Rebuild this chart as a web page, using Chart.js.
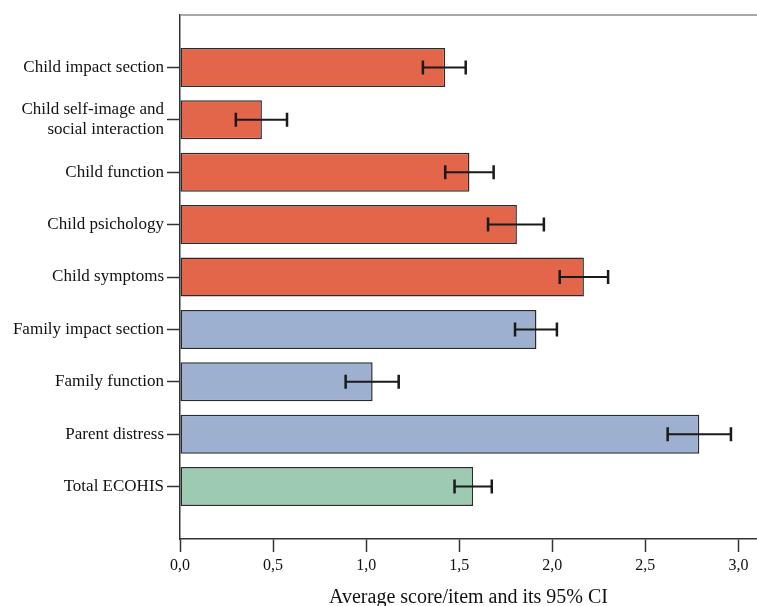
<!DOCTYPE html>
<html>
<head>
<meta charset="utf-8">
<script src="https://cdn.jsdelivr.net/npm/chart.js@4/dist/chart.umd.min.js"></script>
<style>
  html, body { margin: 0; padding: 0; background: #fff; }
  #wrap { width: 757px; height: 606px; position: relative; }
</style>
</head>
<body>
<div id="wrap"><canvas id="c"></canvas></div>
<script>
// ---- data ----
const categories = [
  'Child impact section',
  ['Child self-image and', 'social interaction'],
  'Child function',
  'Child psichology',
  'Child symptoms',
  'Family impact section',
  'Family function',
  'Parent distress',
  'Total ECOHIS'
];
const means   = [1.425, 0.44, 1.555, 1.81, 2.17, 1.915, 1.035, 2.79, 1.575];
const ciLow   = [1.305, 0.30, 1.425, 1.655, 2.04, 1.80, 0.89, 2.62, 1.475];
const ciHigh  = [1.535, 0.575, 1.685, 1.955, 2.30, 2.025, 1.175, 2.96, 1.675];
const groups  = ['child','child','child','child','child','family','family','family','total'];
const xTicks  = [0, 0.5, 1.0, 1.5, 2.0, 2.5, 3.0];
const xTitle  = 'Average score/item and its 95% CI';

const groupColors = { child: '#E3654A', family: '#9DB0D0', total: '#9DCBB2' };

// padded category list so bars sit one full slot away from the frame
const labels = [''].concat(categories, ['']);
const padData = [null].concat(means, [null]);
const padColors = ['transparent'].concat(groups.map(g => groupColors[g]), ['transparent']);

const serif = "'Liberation Serif', 'DejaVu Serif', serif";

const errorBars = {
  id: 'errorBars',
  afterDatasetsDraw(chart) {
    const meta = chart.getDatasetMeta(0);
    const xs = chart.scales.x;
    const ctx = chart.ctx;
    ctx.save();
    ctx.strokeStyle = '#1a1a1a';
    ctx.lineCap = 'butt';
    for (let i = 0; i < means.length; i++) {
      const el = meta.data[i + 1];
      if (!el) continue;
      const y = el.y;
      const x0 = xs.getPixelForValue(ciLow[i]);
      const x1 = xs.getPixelForValue(ciHigh[i]);
      ctx.lineWidth = 2;
      ctx.beginPath();
      ctx.moveTo(x0, y); ctx.lineTo(x1, y);
      ctx.stroke();
      ctx.lineWidth = 2.5;
      ctx.beginPath();
      ctx.moveTo(x0, y - 7); ctx.lineTo(x0, y + 7);
      ctx.moveTo(x1, y - 7); ctx.lineTo(x1, y + 7);
      ctx.stroke();
    }
    // top frame line
    const a = chart.chartArea;
    ctx.strokeStyle = '#8c8c8c';
    ctx.lineWidth = 1.5;
    ctx.beginPath();
    ctx.moveTo(a.left, a.top);
    ctx.lineTo(a.right, a.top);
    ctx.stroke();
    ctx.restore();
  }
};

new Chart(document.getElementById('c'), {
  type: 'bar',
  data: {
    labels: labels,
    datasets: [{
      data: padData,
      backgroundColor: padColors,
      borderColor: '#2b2b2b',
      borderWidth: 1.5,
      borderSkipped: false,
      categoryPercentage: 1,
      barPercentage: 0.745
    }]
  },
  options: {
    indexAxis: 'y',
    responsive: true,
    maintainAspectRatio: false,
    animation: false,
    layout: { padding: { top: 15, left: 0, right: 0, bottom: 0 } },
    plugins: {
      legend: { display: false },
      tooltip: { enabled: false }
    },
    scales: {
      y: {
        type: 'category',
        offset: false,
        afterFit(scale) { scale.width = 180; },
        grid: {
          offset: false,
          drawOnChartArea: false,
          drawTicks: true,
          tickLength: 13,
          tickWidth: 1.5,
          tickColor: (c) => (c.index === 0 || c.index === labels.length - 1) ? 'rgba(0,0,0,0)' : '#333'
        },
        border: { display: true, color: '#333', width: 1.5 },
        ticks: {
          color: '#111',
          padding: 3,
          autoSkip: false,
          font: { family: serif, size: 17 }
        }
      },
      x: {
        type: 'linear',
        min: 0,
        max: 3.1,
        afterBuildTicks(scale) { scale.ticks = xTicks.map(v => ({ value: v })); },
        afterFit(scale) { scale.height = 67; },
        grid: {
          drawOnChartArea: false,
          drawTicks: true,
          tickLength: 13,
          tickWidth: 1.5,
          tickColor: '#333'
        },
        border: { display: true, color: '#333', width: 1.5 },
        ticks: {
          color: '#111',
          padding: 4,
          maxRotation: 0,
          font: { family: serif, size: 16 },
          callback: (v) => Number(v).toFixed(1).replace('.', ',')
        },
        title: {
          display: true,
          text: xTitle,
          color: '#111',
          font: { family: serif, size: 20 },
          padding: { top: 0, bottom: -4 }
        }
      }
    }
  },
  plugins: [errorBars]
});
</script>
</body>
</html>
